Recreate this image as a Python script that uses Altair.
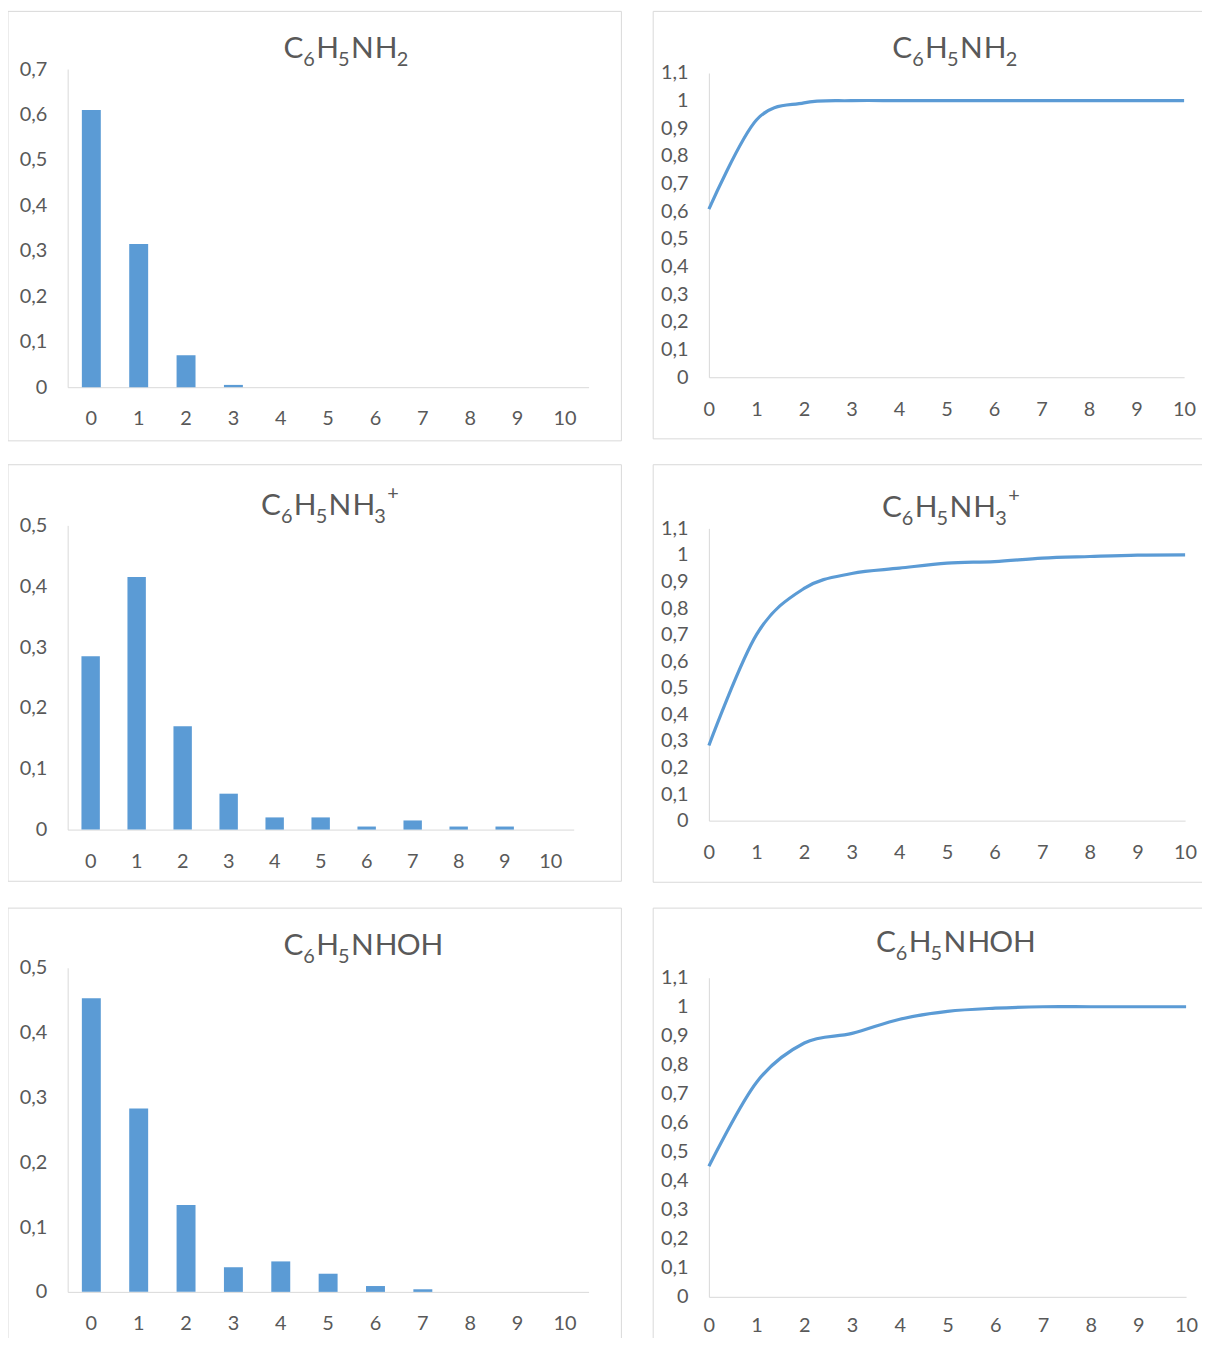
import altair as alt
import pandas as pd

# ---------------- data ----------------
n = list(range(11))

bar_nh2 = [0.61, 0.315, 0.07, 0.005, 0, 0, 0, 0, 0, 0, 0]
bar_nh3 = [0.285, 0.415, 0.17, 0.059, 0.02, 0.02, 0.005, 0.015, 0.005, 0.005, 0]
bar_nhoh = [0.453, 0.283, 0.134, 0.038, 0.047, 0.028, 0.009, 0.004, 0, 0, 0]

cum_nh2 = [0.608, 0.93, 0.992, 1.0, 1.0, 1.0, 1.0, 1.0, 1.0, 1.0, 1.0]
cum_nh3 = [0.283, 0.70, 0.874, 0.93, 0.95, 0.969, 0.975, 0.988, 0.994, 0.999, 1.0]
cum_nhoh = [0.45, 0.74, 0.875, 0.908, 0.957, 0.984, 0.995, 1.0, 1.0, 1.0, 1.0]

# titles as (text, role) pieces: main / sub(script) / sup(erscript)
title_nh2 = [("C", "main"), ("6", "sub"), ("H", "main"), ("5", "sub"), ("N", "main"),
             ("H", "main"), ("2", "sub")]
title_nh3 = [("C", "main"), ("6", "sub"), ("H", "main"), ("5", "sub"), ("N", "main"),
             ("H", "main"), ("3", "sub"), ("+", "sup")]
title_nhoh = [("C", "main"), ("6", "sub"), ("H", "main"), ("5", "sub"), ("N", "main"),
              ("H", "main"), ("O", "main"), ("H", "main")]

ticks_07 = [0, 0.1, 0.2, 0.3, 0.4, 0.5, 0.6, 0.7]
ticks_05 = [0, 0.1, 0.2, 0.3, 0.4, 0.5]
ticks_11 = [0, 0.1, 0.2, 0.3, 0.4, 0.5, 0.6, 0.7, 0.8, 0.9, 1.0, 1.1]

# ---------------- styles ----------------
BLUE = "#5b9bd5"
GREY = "#d9d9d9"
TXT = "#595959"
FONT = "Lato, 'Noto Sans', 'DejaVu Sans', sans-serif"
LABEL_EXPR = "replace(format(datum.value, '.1~f'), '.', ',')"

# approximate glyph advances (px) for the title pieces
ADV = {"C": 20, "H": 22, "N": 24, "O": 24}
SUB_ADV = 13
SUP_ADV = 12


def y_axis(values):
    return alt.Axis(values=values, labelExpr=LABEL_EXPR, ticks=False, tickSize=0,
                    grid=False, domainColor=GREY, labelPadding=21, labelFontSize=20,
                    labelColor=TXT, labelFont=FONT, labelOverlap=False, labelBaseline="middle")


def x_axis(values=None, pad=22):
    kw = dict(labelAngle=0, ticks=False, tickSize=0, grid=False, domainColor=GREY,
              labelPadding=pad, labelFontSize=20, labelColor=TXT, labelFont=FONT,
              labelOverlap=False, labelFlush=False)
    if values is not None:
        kw["values"] = values
        kw["format"] = "d"
    return alt.Axis(**kw)


def bar_chart(vals, yticks):
    df = pd.DataFrame({"n": n, "v": vals})
    return alt.Chart(df).mark_bar(color=BLUE).encode(
        x=alt.X("n:O", title=None,
                scale=alt.Scale(paddingInner=0.6, paddingOuter=0.3),
                axis=x_axis()),
        y=alt.Y("v:Q", title=None,
                scale=alt.Scale(domain=[yticks[0], yticks[-1]], nice=False),
                axis=y_axis(yticks)),
    )


def line_chart(vals, h, top, pad=22):
    df = pd.DataFrame({"n": n, "v": vals})
    return alt.Chart(df).mark_line(color=BLUE, strokeWidth=3.2, interpolate="cardinal").encode(
        x=alt.X("n:Q", title=None, scale=alt.Scale(domain=[0, 10], nice=False),
                axis=x_axis(n, pad)),
        y=alt.Y("v:Q", title=None,
                scale=alt.Scale(domain=[0, 1.1], nice=False, range=[h, top]),
                axis=y_axis(ticks_11)),
    )


one = pd.DataFrame({"a": [0]})


def title_layers(pieces, cx, base):
    total = 0
    for t, role in pieces:
        total += ADV[t] if role == "main" else (SUB_ADV if role == "sub" else SUP_ADV)
    x = cx - total / 2
    out = []
    for t, role in pieces:
        if role == "main":
            size, y, adv = 30, base, ADV[t]
        elif role == "sub":
            size, y, adv = 20, base + 8, SUB_ADV
        else:
            size, y, adv = 20, base - 16, SUP_ADV
        out.append(alt.Chart(one).mark_text(
            font=FONT, fontSize=size, color=TXT, align="left", baseline="alphabetic").encode(
            x=alt.value(x), y=alt.value(y), text=alt.value(t)))
        x += adv
    return out


def panel(main, w, h, title, tx, ty, left, top, right, bottom, draw_right=True, draw_bottom=True):
    layers = []
    rule = dict(color=GREY, strokeWidth=1)
    layers.append(alt.Chart(one).mark_rule(**rule).encode(
        x=alt.value(left), x2=alt.value(right), y=alt.value(top)))
    layers.append(alt.Chart(one).mark_rule(**rule).encode(
        x=alt.value(left), y=alt.value(top), y2=alt.value(bottom)))
    if draw_right:
        layers.append(alt.Chart(one).mark_rule(**rule).encode(
            x=alt.value(right), y=alt.value(top), y2=alt.value(bottom)))
    if draw_bottom:
        layers.append(alt.Chart(one).mark_rule(**rule).encode(
            x=alt.value(left), x2=alt.value(right), y=alt.value(bottom)))
    layers += title_layers(title, tx, ty)
    layers.append(main)
    return alt.layer(*layers).properties(width=w, height=h)


tl = panel(bar_chart(bar_nh2, ticks_07), 524, 320, title_nh2, 280.5, -11, -60, -58, 557, 374)
tr = panel(line_chart(cum_nh2, 310, 4), 478, 310, title_nh2, 248, -11, -56, -58, 505, 372,
           draw_right=False)
ml = panel(bar_chart(bar_nh3, ticks_05), 509, 306, title_nh3, 264, -10, -60, -61, 557, 358)
mr = panel(line_chart(cum_nh3, 297, 3), 479, 297, title_nh3, 243.5, -8, -56, -61, 505, 359,
           draw_right=False)
bl = panel(bar_chart(bar_nhoh, ticks_05), 524, 326, title_nhoh, 297, -13, -60, -60, 557, 400,
           draw_bottom=False)
br = panel(line_chart(cum_nhoh, 331, 10, pad=19), 480, 331, title_nhoh, 248, -16, -56, -60, 505, 400,
           draw_right=False, draw_bottom=False)

chart = alt.vconcat(
    alt.vconcat(
        alt.hconcat(tl, tr, spacing=30),
        alt.hconcat(ml, mr, spacing=30),
        spacing=22,
    ),
    alt.hconcat(bl, br, spacing=30),
    spacing=24,
).properties(
    autosize=alt.AutoSizeParams(type="none"),
    padding={"left": 60, "top": 57.5, "right": 1141, "bottom": 1272.5},
    background="white",
).configure_view(strokeWidth=0)

chart.save("out.html", embed_options={"renderer": "svg", "actions": False})
